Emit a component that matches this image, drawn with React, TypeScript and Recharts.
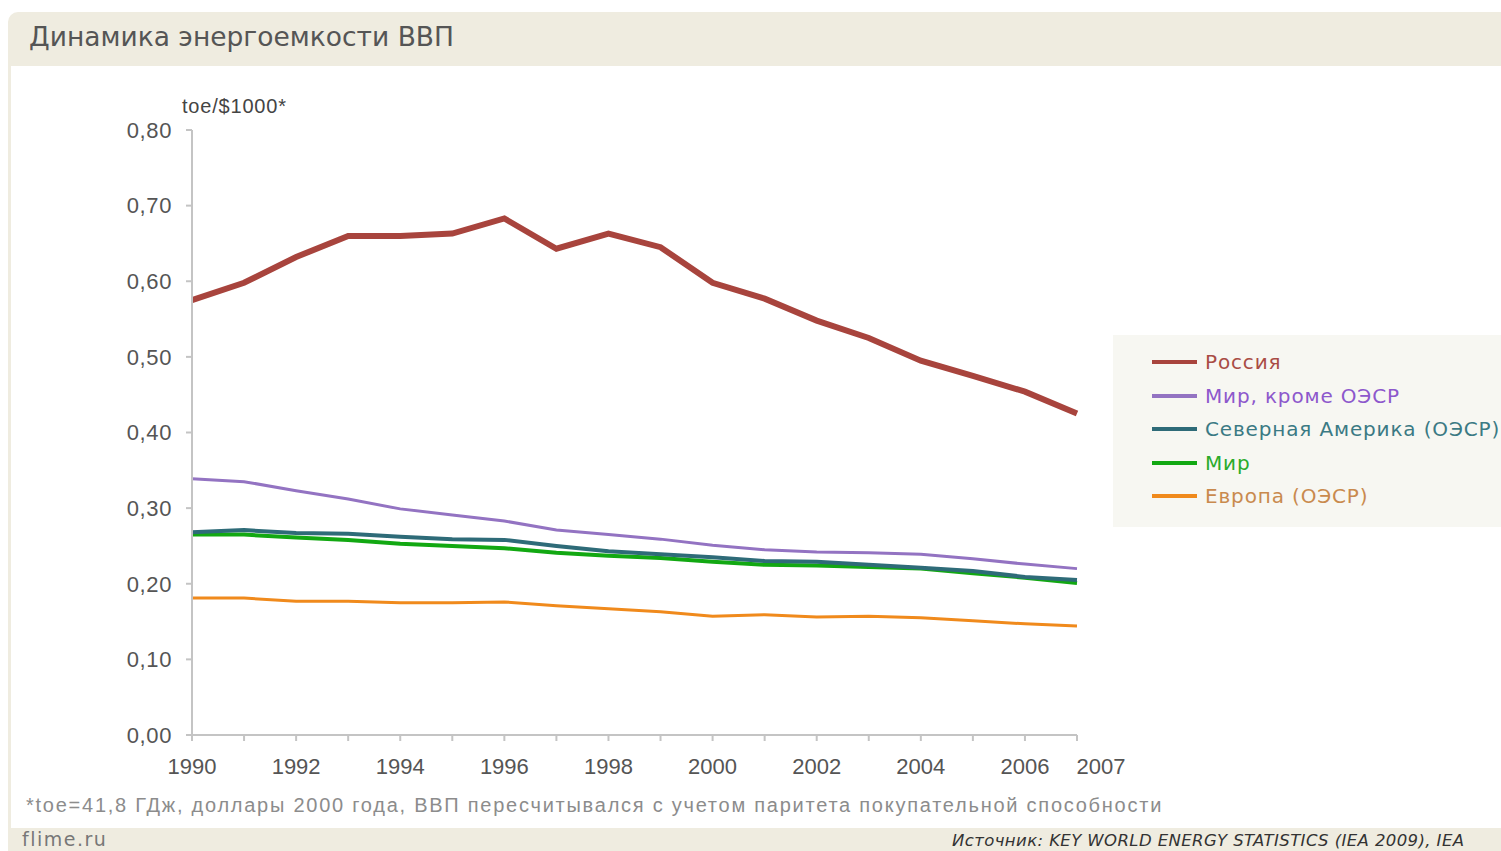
import React from "react";
import { Line, LineChart, XAxis, YAxis } from "recharts";

const years = [
  1990, 1991, 1992, 1993, 1994, 1995, 1996, 1997, 1998, 1999, 2000, 2001, 2002, 2003, 2004, 2005,
  2006, 2007,
];

const russia = [
  0.575, 0.598, 0.632, 0.66, 0.66, 0.663, 0.683, 0.643, 0.663, 0.645, 0.598, 0.577, 0.548, 0.525,
  0.495, 0.475, 0.454, 0.425,
];
const worldNonOecd = [
  0.339, 0.335, 0.323, 0.312, 0.299, 0.291, 0.283, 0.271, 0.265, 0.259, 0.251, 0.245, 0.242, 0.241,
  0.239, 0.233, 0.226, 0.22,
];
const northAmerica = [
  0.268, 0.271, 0.267, 0.266, 0.262, 0.259, 0.258, 0.25, 0.243, 0.239, 0.235, 0.23, 0.229, 0.225,
  0.221, 0.217, 0.209, 0.205,
];
const world = [
  0.265, 0.265, 0.261, 0.258, 0.253, 0.25, 0.247, 0.241, 0.237, 0.234, 0.229, 0.225, 0.224, 0.222,
  0.22, 0.214, 0.208, 0.201,
];
const europe = [
  0.181, 0.181, 0.177, 0.177, 0.175, 0.175, 0.176, 0.171, 0.167, 0.163, 0.157, 0.159, 0.156, 0.157,
  0.155, 0.151, 0.147, 0.144,
];

const yTicks = [0, 0.1, 0.2, 0.3, 0.4, 0.5, 0.6, 0.7, 0.8];
const xLabelled = [1990, 1992, 1994, 1996, 1998, 2000, 2002, 2004, 2006, 2007];

const SERIES = [
  { key: "europe", name: "Европа (ОЭСР)", color: "#f08a1c", text: "#c98a4e", width: 3 },
  { key: "world", name: "Мир", color: "#12a812", text: "#2aab2a", width: 4 },
  { key: "northAmerica", name: "Северная Америка (ОЭСР)", color: "#2e6b78", text: "#3b7a84", width: 4 },
  { key: "worldNonOecd", name: "Мир, кроме ОЭСР", color: "#9373c2", text: "#8d58cc", width: 3 },
  { key: "russia", name: "Россия", color: "#a8443d", text: "#a94c45", width: 6 },
];
const LEGEND_ORDER = ["russia", "worldNonOecd", "northAmerica", "world", "europe"];

const data = years.map((year, i) => ({
  year,
  russia: russia[i],
  worldNonOecd: worldNonOecd[i],
  northAmerica: northAmerica[i],
  world: world[i],
  europe: europe[i],
}));

const AXIS = "#c4c4c4";
const TICK_FONT = "'Liberation Sans', Arial, sans-serif";
const SANS = "'DejaVu Sans', Verdana, sans-serif";

function YearTick({ x, y, payload }: any) {
  const v = payload.value as number;
  if (!xLabelled.includes(v)) return null;
  return (
    <text
      x={x + (v === 2007 ? 24 : 0)}
      y={y + 31}
      textAnchor="middle"
      fill="#555"
      fontSize={22}
      fontFamily={TICK_FONT}
    >
      {v}
    </text>
  );
}

export default function App() {
  return (
    <div
      style={{
        position: "absolute",
        left: 0,
        top: 0,
        width: 1501,
        height: 851,
        background: "#fff",
        overflow: "hidden",
      }}
    >
      {/* beige frame */}
      <div
        style={{
          position: "absolute",
          left: 8,
          top: 12,
          width: 1493,
          height: 839,
          background: "#efece0",
          borderTopLeftRadius: 10,
        }}
      />
      <div
        style={{
          position: "absolute",
          left: 11,
          top: 66,
          width: 1490,
          height: 762,
          background: "#fff",
        }}
      />
      <div
        style={{
          position: "absolute",
          left: 29,
          top: 21,
          fontFamily: SANS,
          fontSize: 26.5,
          color: "#555",
          whiteSpace: "nowrap",
        }}
      >
        Динамика энергоемкости ВВП
      </div>
      <div
        style={{
          position: "absolute",
          left: 182,
          top: 95,
          fontFamily: TICK_FONT,
          fontSize: 20,
          letterSpacing: 0.8,
          color: "#444",
          whiteSpace: "nowrap",
        }}
      >
        toe/$1000*
      </div>

      <div style={{ position: "absolute", left: 0, top: 0 }}>
        <LineChart
          width={1501}
          height={851}
          data={data}
          margin={{ top: 130, right: 424, left: 132, bottom: 76 }}
        >
          <XAxis
            dataKey="year"
            type="number"
            domain={[1990, 2007]}
            ticks={years}
            interval={0}
            height={40}
            stroke={AXIS}
            strokeWidth={2}
            tickSize={6}
            tick={<YearTick />}
          />
          <YAxis
            type="number"
            domain={[0, 0.8]}
            ticks={yTicks}
            interval={0}
            width={60}
            stroke={AXIS}
            strokeWidth={2}
            tickSize={6}
            tickMargin={14}
            tick={{ fill: "#555", fontSize: 22, fontFamily: TICK_FONT, letterSpacing: 0.6 }}
            tickFormatter={(v: number) => v.toFixed(2).replace(".", ",")}
          />
          {SERIES.map((s) => (
            <Line
              key={s.key}
              dataKey={s.key}
              name={s.name}
              stroke={s.color}
              strokeWidth={s.width}
              dot={false}
              type="linear"
              isAnimationActive={false}
            />
          ))}
        </LineChart>
      </div>

      {/* legend */}
      <div
        style={{
          position: "absolute",
          left: 1113,
          top: 335,
          width: 388,
          height: 192,
          background: "#f7f7f2",
        }}
      >
        {LEGEND_ORDER.map((k, i) => {
          const s = SERIES.find((x) => x.key === k)!;
          return (
            <div
              key={k}
              style={{
                position: "absolute",
                left: 39,
                top: 12 + i * 33.5,
                height: 30,
                display: "flex",
                alignItems: "center",
                whiteSpace: "nowrap",
              }}
            >
              <span
                style={{
                  display: "inline-block",
                  width: 45,
                  height: 4,
                  background: s.color,
                  marginRight: 8,
                }}
              />
              <span
                style={{
                  fontFamily: SANS,
                  fontSize: 20,
                  letterSpacing: 0.85,
                  color: s.text,
                }}
              >
                {s.name}
              </span>
            </div>
          );
        })}
      </div>

      <div
        style={{
          position: "absolute",
          left: 26,
          top: 794,
          fontFamily: TICK_FONT,
          fontSize: 20,
          letterSpacing: 1.75,
          color: "#8c8c8c",
          whiteSpace: "nowrap",
        }}
      >
        *toe=41,8 ГДж, доллары 2000 года, ВВП пересчитывался с учетом паритета покупательной способности
      </div>
      <div
        style={{
          position: "absolute",
          left: 22,
          top: 828,
          fontFamily: SANS,
          fontSize: 19,
          letterSpacing: 1.5,
          color: "#777",
          whiteSpace: "nowrap",
        }}
      >
        flime.ru
      </div>
      <div
        style={{
          position: "absolute",
          left: 952,
          top: 831,
          fontFamily: SANS,
          fontStyle: "italic",
          fontSize: 16.5,
          letterSpacing: 0.4,
          color: "#333",
          whiteSpace: "nowrap",
        }}
      >
        Источник: KEY WORLD ENERGY STATISTICS (IEA 2009), IEA
      </div>
    </div>
  );
}
